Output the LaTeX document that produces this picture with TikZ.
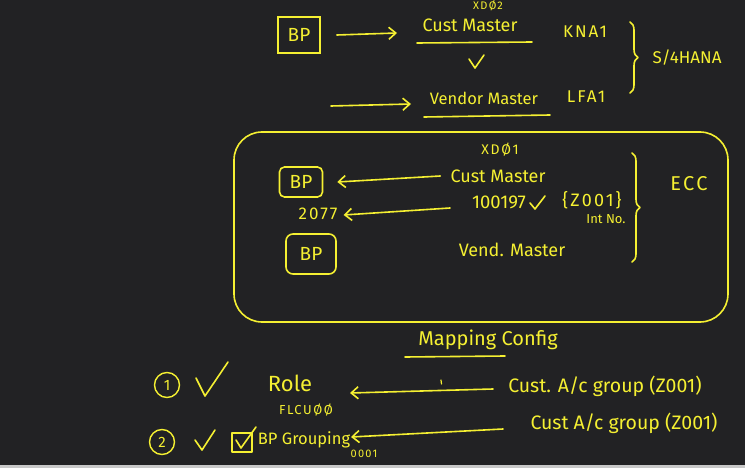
\documentclass[tikz,border=0pt]{standalone}
\usepackage{fontspec}
\setmainfont{Fira Sans}
\newfontfamily\wide[LetterSpace=12]{Fira Sans}
\usetikzlibrary{arrows.meta,decorations.pathreplacing}
\definecolor{bg}{RGB}{34,34,36}
\definecolor{ink}{RGB}{245,240,50}
\definecolor{edge}{RGB}{200,200,200}
\newcommand{\fsz}[1]{\fontsize{#1}{#1}\selectfont}
\tikzset{
  ink/.style={draw=ink,line width=1.6pt,line cap=round,line join=round},
  txt/.style={text=ink,inner sep=0pt},
  bpbox/.style={draw=ink,line width=1.6pt,text=ink,inner sep=0pt,font=\fsz{19}},
  arr/.style={ink,-{Straight Barb[length=7pt,width=12pt,line width=1.6pt]}},
  brc/.style={ink,decorate,decoration={brace,amplitude=8pt}},
  num/.style={draw=ink,line width=1.4pt,circle,text=ink,inner sep=0pt,minimum size=25pt,font=\fsz{15}},
}
\begin{document}
\begin{tikzpicture}[x=1pt,y=-1pt]
\fill[bg] (0,0) rectangle (745,468);
\fill[edge] (0,465) rectangle (745,468);
\useasboundingbox (0,0) rectangle (745,468);

% ---------- top: S/4HANA ----------
\node[bpbox,minimum width=42pt,minimum height=36pt] (bpA) at (299,35) {BP};
\node[txt,font=\wide\fsz{11}] (xd2) at (488,6) {XDØ2};
\node[txt,font=\fsz{18}] (cmA) at (470,25) {Cust Master};
\coordinate (ulA1) at (417,43); \coordinate (ulA2) at (532,42);
\draw[ink] (ulA1) -- (ulA2);
\coordinate (ckA1) at (469,59); \coordinate (ckA2) at (475,68); \coordinate (ckA3) at (484,55);
\draw[ink] (ckA1) -- (ckA2) -- (ckA3);
\node[txt,font=\wide\fsz{17}] (kna) at (585,32) {KNA1};
\node[txt,font=\wide\fsz{17}] (lfa) at (586,97) {LFA1};
\node[txt,font=\fsz{16.5}] (vmA) at (484,98) {Vendor Master};
\coordinate (ulB1) at (424,117); \coordinate (ulB2) at (550,115);
\draw[ink] (ulB1) -- (ulB2);
\coordinate (aA2) at (397,33);
\draw[arr] ([xshift=16pt]bpA.east) -- (aA2);
\coordinate (aB1) at (331,106); \coordinate (aB2) at (411,104);
\draw[arr] (aB1) -- (aB2);
\coordinate (brA1) at (630,22); \coordinate (brA2) at (630,93);
\draw[brc] (brA1) -- (brA2);
\node[txt,font=\fsz{17}] (s4) at (687,58) {S/4HANA};

% ---------- middle: ECC ----------
\coordinate (boxA) at (234,132); \coordinate (boxB) at (728,322);
\draw[ink,rounded corners=28pt] (boxA) rectangle (boxB);
\node[txt,font=\wide\fsz{14}] (xd1) at (500,150) {XDØ1};
\node[txt,font=\fsz{18}] (cmB) at (498,176) {Cust Master};
\node[txt,font=\fsz{18.5}] (nr) at (499,202) {100197};
\coordinate (ckB1) at (530,203); \coordinate (ckB2) at (535,209); \coordinate (ckB3) at (545,196);
\draw[ink] (ckB1) -- (ckB2) -- (ckB3);
\node[txt,font=\wide\fsz{18}] (z1) at (592,200) {\{Z001\}};
\node[txt,font=\fsz{13}] (intno) at (606,219) {Int No.};
\coordinate (brB1) at (632,153); \coordinate (brB2) at (632,262);
\draw[brc] (brB1) -- (brB2);
\node[txt,font=\wide\fsz{20}] (ecc) at (689,184) {ECC};
\node[bpbox,rounded corners=5pt,minimum width=43pt,minimum height=30pt] (bpB) at (301,182) {BP};
\node[bpbox,rounded corners=7pt,minimum width=50pt,minimum height=40pt] (bpC) at (311,254) {BP};
\draw[arr] ([xshift=-10pt]cmB.west) -- ([xshift=14pt]bpB.east);
\node[txt,font=\wide\fsz{17}] (n2077) at (318,214) {2077};
\coordinate (aD1) at (450,208);
\draw[arr] (aD1) -- ([xshift=6pt,yshift=-1pt]n2077.east);
\node[txt,font=\fsz{18}] (vmB) at (512,250) {Vend. Master};

% ---------- bottom: mapping config ----------
\node[txt,font=\fsz{20}] (mc) at (488,340) {Mapping Config};
\coordinate (ulC1) at (405,357); \coordinate (ulC2) at (505,356);
\draw[ink] (ulC1) -- (ulC2);
\node[num] (c1) at (167,385) {1};
\coordinate (ckC1) at (196,378); \coordinate (ckC2) at (205,396); \coordinate (ckC3) at (228,362);
\draw[ink] (ckC1) -- (ckC2) -- (ckC3);
\node[txt,font=\fsz{22}] (role) at (290,383) {Role};
\node[txt,font=\wide\fsz{13}] (flcu) at (306,410) {FLCUØØ};
\node[txt,font=\fsz{19.5}] (cag1) at (605,386) {Cust. A/c group (Z001)};
\coordinate (aE1) at (493,389); \coordinate (aE2) at (350,393);
\draw[arr] (aE1) -- (aE2);
\coordinate (tk1) at (441,380); \coordinate (tk2) at (441.5,384);
\draw[ink,line width=1.2pt] (tk1) -- (tk2);
\node[num] (c2) at (162,442) {2};
\coordinate (ckD1) at (195,440); \coordinate (ckD2) at (202,450); \coordinate (ckD3) at (215,430);
\draw[ink] (ckD1) -- (ckD2) -- (ckD3);
\coordinate (cbA) at (232,433); \coordinate (cbB) at (252,452);
\draw[ink] (cbA) rectangle (cbB);
\coordinate (ckE1) at (236,440); \coordinate (ckE2) at (241,448); \coordinate (ckE3) at (256,427);
\draw[ink] (ckE1) -- (ckE2) -- (ckE3);
\node[txt,font=\fsz{16.5}] (bpg) at (304,440) {BP Grouping};
\node[txt,font=\wide\fsz{11}] (n0001) at (364,454) {0001};
\node[txt,font=\fsz{19.5}] (cag2) at (624,423) {Cust A/c group (Z001)};
\coordinate (aF1) at (503,429); \coordinate (aF2) at (351,437);
\draw[arr] (aF1) -- (aF2);
\end{tikzpicture}
\end{document}
